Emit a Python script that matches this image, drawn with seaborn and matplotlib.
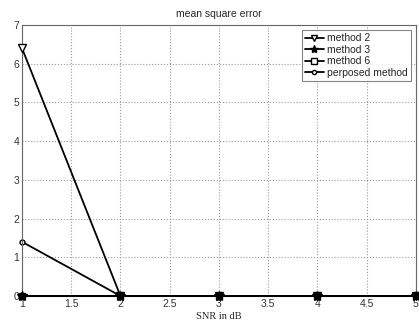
import matplotlib
matplotlib.use("Agg")
import matplotlib.pyplot as plt
import seaborn as sns
import pandas as pd

snr = [1, 2, 3, 4, 5]
method2 = [6.4, 0.0, 0.0, 0.0, 0.0]
method3 = [0.0, 0.0, 0.0, 0.0, 0.0]
method6 = [0.0, 0.0, 0.0, 0.0, 0.0]
proposed = [1.4, 0.0, 0.0, 0.0, 0.0]
labels = ["method 2", "method 3", "method 6", "perposed method"]

sns.set_style("white")
plt.rcParams['font.family'] = ['Liberation Sans', 'DejaVu Sans']

fig = plt.figure(figsize=(4.19, 3.2), dpi=100)
ax = fig.add_axes([0.0525, 0.075, 0.94, 0.847])

series = [method2, method3, method6, proposed]
markers = ['v', '*', 's', 'o']
msizes = [5.5, 7, 5, 3.5]
faces = ['white', 'black', 'white', 'white']
zorders = [3, 5, 4, 2.5]
for lab, vals, m, ms, fc, z in zip(labels, series, markers, msizes, faces, zorders):
    df = pd.DataFrame({"snr": snr, "mse": vals})
    sns.lineplot(data=df, x="snr", y="mse", ax=ax, color='black', linewidth=1.3,
                 marker=m, markersize=ms, markerfacecolor=fc, markeredgecolor='black',
                 markeredgewidth=1.0, label=lab, clip_on=False, zorder=z)

ax.set_xlim(1, 5)
ax.set_ylim(0, 7)
ax.set_xticks([1, 1.5, 2, 2.5, 3, 3.5, 4, 4.5, 5])
ax.set_xticklabels(['1', '1.5', '2', '2.5', '3', '3.5', '4', '4.5', '5'])
ax.set_yticks(range(0, 8))
ax.tick_params(labelsize=7.5, length=2, direction='in', pad=2, colors='#333333')
ax.grid(True, linestyle=':', color='#999999', linewidth=0.8)
for s in ax.spines.values():
    s.set_color('#666666')
    s.set_linewidth(0.8)
ax.set_title("mean square error", fontsize=7.5, pad=6)
ax.set_xlabel("SNR in dB", fontsize=7.5, family=['Liberation Serif'], labelpad=2)
ax.set_ylabel("")
leg = ax.legend(loc='upper right', fontsize=7.5, frameon=True, fancybox=False,
                edgecolor='#666666', borderpad=0.3, labelspacing=0.15,
                handlelength=1.8, handletextpad=0.3, borderaxespad=0.5,
                markerscale=0.85)
leg.get_frame().set_linewidth(0.8)
leg.set_zorder(10)

fig.savefig("out.png", dpi=100)
